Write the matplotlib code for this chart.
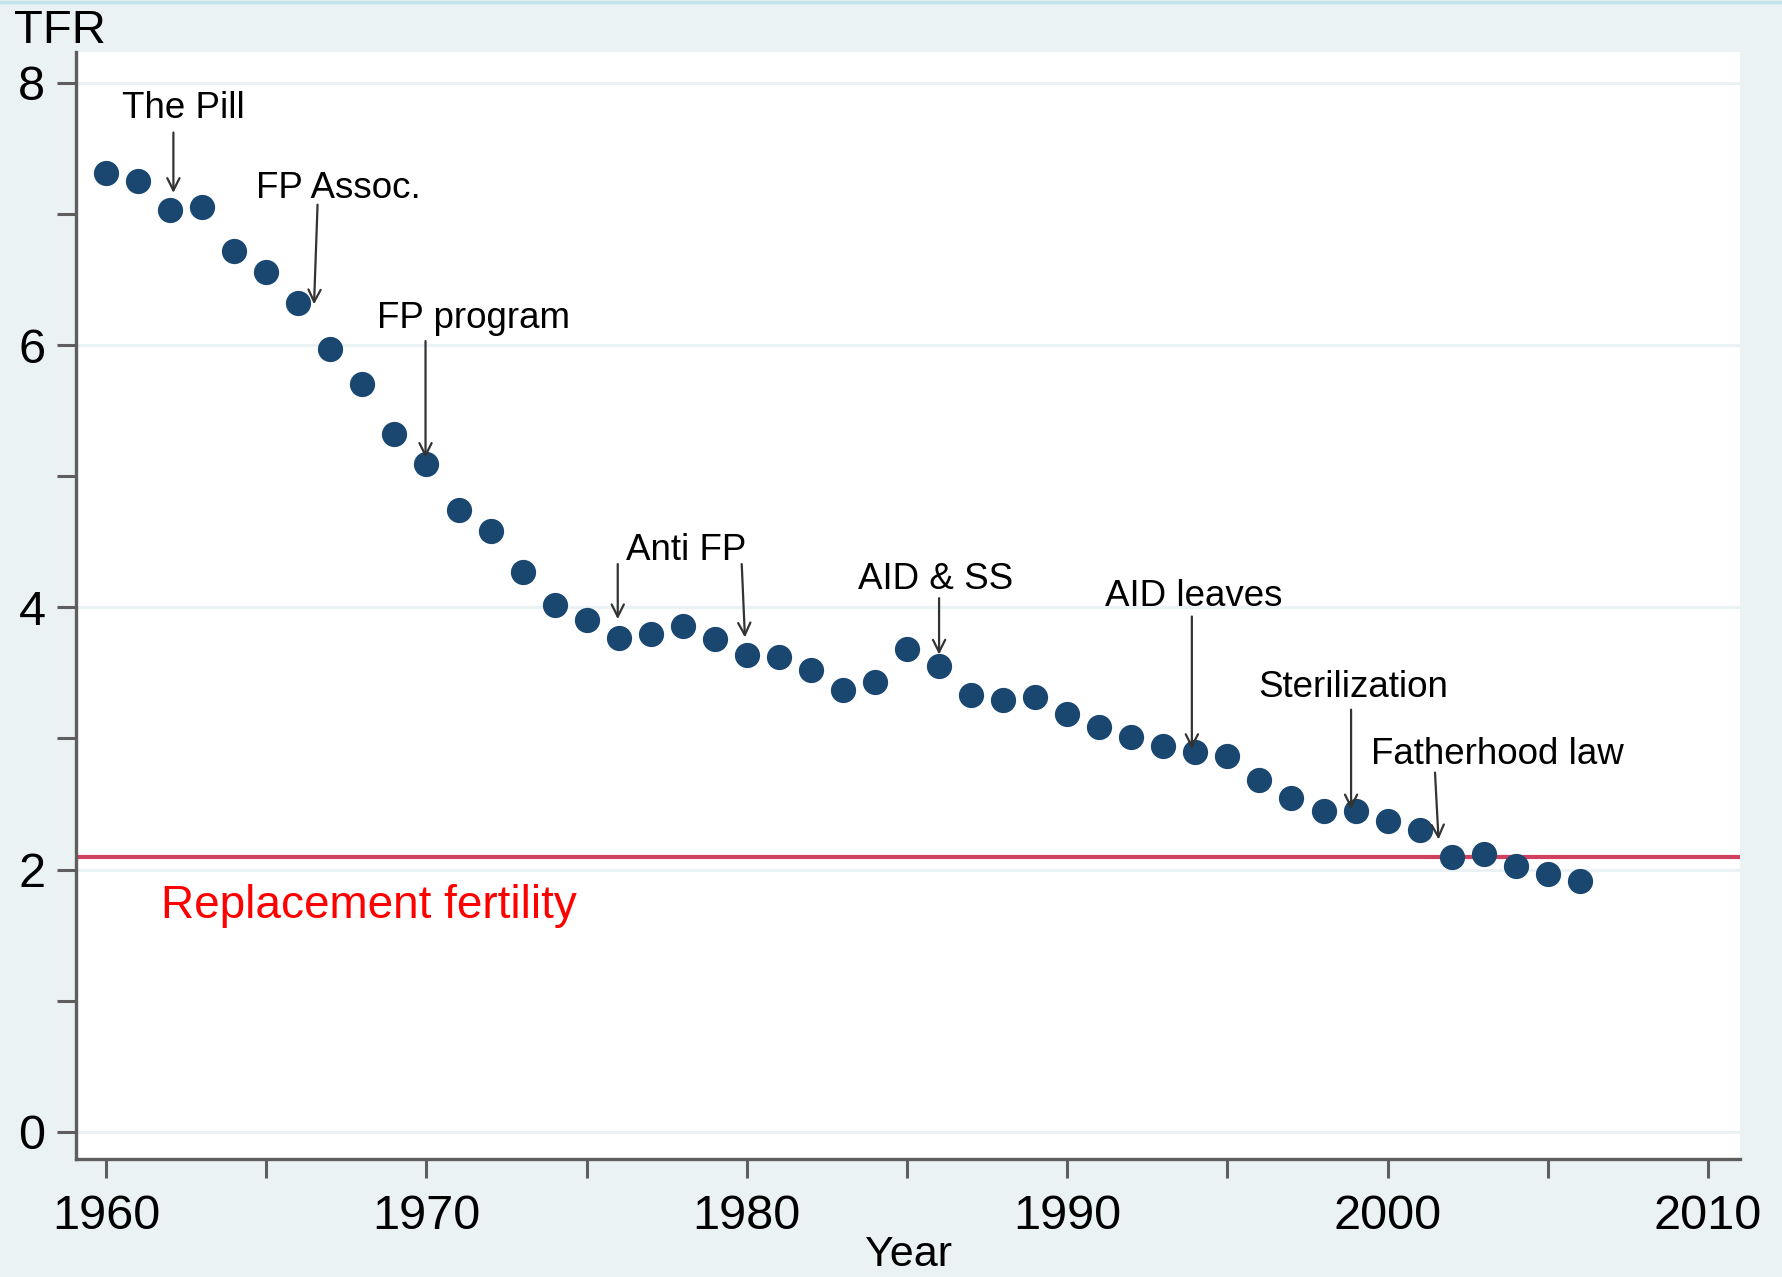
import matplotlib
matplotlib.use("Agg")
import matplotlib.pyplot as plt
from matplotlib.lines import Line2D

years = list(range(1960, 2007))
tfr = [7.31, 7.25, 7.03, 7.05, 6.72, 6.56, 6.32, 5.97, 5.70, 5.32,
       5.09, 4.74, 4.58, 4.27, 4.02, 3.90, 3.77, 3.80, 3.86, 3.76,
       3.64, 3.62, 3.52, 3.37, 3.43, 3.68, 3.55, 3.33, 3.29, 3.32,
       3.19, 3.09, 3.01, 2.94, 2.90, 2.87, 2.68, 2.55, 2.45, 2.45,
       2.37, 2.30, 2.10, 2.12, 2.03, 1.97, 1.91]
replacement = 2.1

# annotation labels
ann_labels = ["The Pill", "FP Assoc.", "FP program", "Anti FP", "AID & SS",
              "AID leaves", "Sterilization", "Fatherhood law"]
ann_text_x = [1962.4, 1967.24, 1971.46, 1978.1, 1985.9, 1993.96, 1998.93, 2003.43]
ann_text_y = [7.80, 7.19, 6.20, 4.43, 4.21, 4.08, 3.39, 2.88]
# arrows
arrow_x0 = [1962.1, 1966.6, 1969.97, 1975.97, 1979.84, 1986.0, 1993.89, 1998.86, 2001.48]
arrow_y0 = [7.62, 7.07, 6.03, 4.33, 4.33, 4.07, 3.93, 3.22, 2.74]
arrow_x1 = [1962.1, 1966.49, 1969.97, 1975.97, 1979.94, 1986.0, 1993.89, 1998.86, 2001.59]
arrow_y1 = [7.16, 6.31, 5.14, 3.91, 3.77, 3.64, 2.92, 2.46, 2.23]

x_major = [1960, 1970, 1980, 1990, 2000, 2010]
x_minor = [1965, 1975, 1985, 1995, 2005]
y_major = [0, 2, 4, 6, 8]
y_minor = [1, 3, 5, 7]

BG = "#eaf2f3"
NAVY = "#1a476f"
AXC = "#5e5e5e"
FONT = "Liberation Sans"

plt.rcParams['font.family'] = [FONT, 'DejaVu Sans']

W, H = 1783, 1277
L, R, T, B = 76, 1740, 52, 1159

fig = plt.figure(figsize=(W / 100, H / 100), dpi=100)
fig.patch.set_facecolor(BG)
ax = fig.add_axes([L / W, (H - B) / H, (R - L) / W, (B - T) / H])
ax.set_facecolor("white")

ax.set_xlim(1959.06, 2011.0)
ax.set_ylim(-0.206, 8.234)

for yv in y_major:
    ax.axhline(yv, color=BG, lw=2.2, zorder=0)

ax.axhline(replacement, color="#d0405f", lw=3, zorder=1)

ax.scatter(years, tfr, s=330, color=NAVY, zorder=3, linewidths=0)

for t, tx, ty in zip(ann_labels, ann_text_x, ann_text_y):
    ax.text(tx, ty, t, ha="center", va="center", fontsize=26.5, color="black", zorder=4)
for x0, y0, x1, y1 in zip(arrow_x0, arrow_y0, arrow_x1, arrow_y1):
    ax.annotate("", xy=(x1, y1), xytext=(x0, y0),
                arrowprops=dict(arrowstyle="->", color="#333333", lw=1.6,
                                mutation_scale=22, shrinkA=0, shrinkB=0),
                zorder=4)

ax.text(1961.7, 1.72, "Replacement fertility", ha="left", va="center",
        fontsize=33, color="#ff0000")

for s in ["top", "right"]:
    ax.spines[s].set_visible(False)
for s in ["left", "bottom"]:
    ax.spines[s].set_color(AXC)
    ax.spines[s].set_linewidth(2.4)

ax.set_xticks(x_major)
ax.set_xticks(x_minor, minor=True)
ax.set_yticks(y_major)
ax.set_yticks(y_minor, minor=True)
ax.tick_params(axis="both", which="both", direction="out", length=14, width=2.2,
               color=AXC, labelsize=35, labelcolor="black")
ax.tick_params(axis="x", which="both", pad=11)
ax.tick_params(axis="y", which="both", pad=8)

fig.text(908 / W, 1 - 1266 / H, "Year", ha="center", va="baseline", fontsize=31)
fig.text(14 / W, 1 - 31 / H, "TFR", ha="left", va="center", fontsize=34)

fig.add_artist(Line2D([0, 1], [1 - 1.5 / H, 1 - 1.5 / H], color="#c2e4ea", lw=2.5,
                      transform=fig.transFigure))

fig.savefig("out.png", dpi=100, facecolor=BG)
